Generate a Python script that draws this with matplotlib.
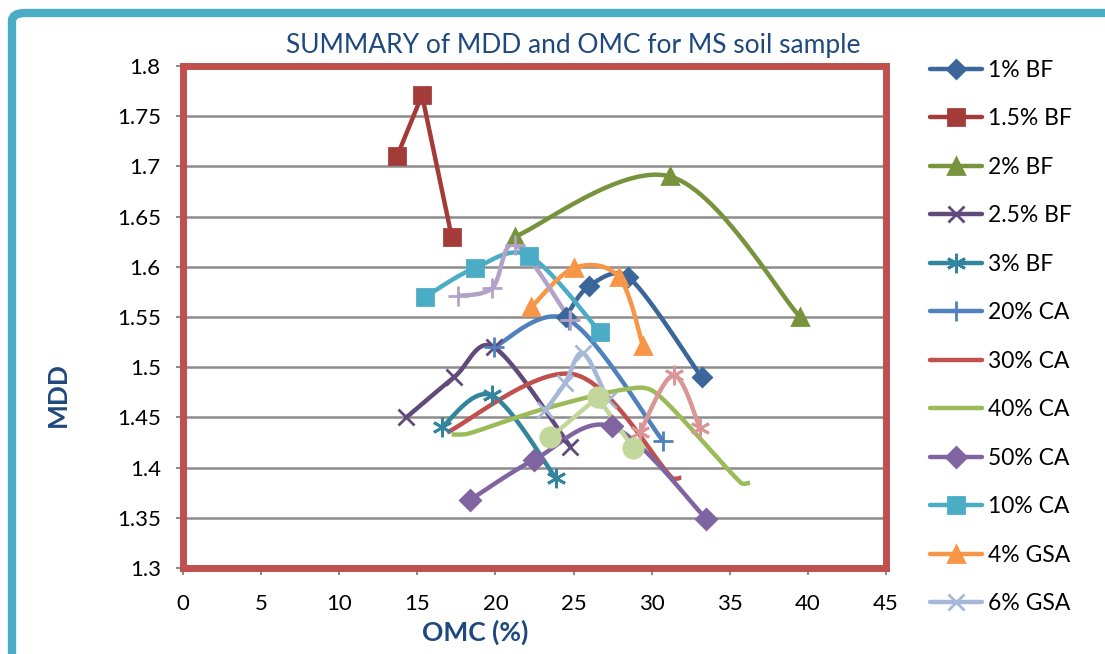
import numpy as np
import matplotlib
matplotlib.use("Agg")
import matplotlib.pyplot as plt
from matplotlib.patches import FancyBboxPatch

plt.rcParams['font.family'] = ['Lato', 'DejaVu Sans']

# series data (OMC %, MDD)
bf1_x = [24.5, 26.0, 28.5, 33.2]
bf1_y = [1.55, 1.581, 1.59, 1.49]
bf15_x = [13.7, 15.3, 17.2]
bf15_y = [1.71, 1.771, 1.63]
bf2_x = [21.25, 31.2, 39.5]
bf2_y = [1.63, 1.69, 1.55]
bf25_x = [14.3, 17.35, 19.9, 24.8]
bf25_y = [1.45, 1.49, 1.52, 1.421]
bf3_x = [16.55, 19.75, 23.85]
bf3_y = [1.44, 1.472, 1.39]
ca20_x = [19.9, 24.7, 30.7]
ca20_y = [1.52, 1.547, 1.427]
ca30_x = [16.9, 25.0, 31.3, 31.9]
ca30_y = [1.435, 1.493, 1.39, 1.39]
ca40_x = [17.2, 18.3, 23.0, 28.3, 30.3, 35.7, 36.3]
ca40_y = [1.433, 1.434, 1.458, 1.478, 1.474, 1.385, 1.385]
ca50_x = [18.4, 22.5, 27.45, 33.5]
ca50_y = [1.368, 1.408, 1.441, 1.349]
ca10_x = [15.5, 18.7, 22.15, 26.7]
ca10_y = [1.57, 1.599, 1.611, 1.535]
gsa4_x = [22.3, 25.05, 27.9, 29.45]
gsa4_y = [1.56, 1.599, 1.59, 1.521]
gsa6_x = [23.2, 24.45, 25.6, 27.2]
gsa6_y = [1.457, 1.484, 1.514, 1.467]
# series that the legend does not list
pink_x = [29.25, 31.4, 33.1]
pink_y = [1.435, 1.492, 1.439]
green_x = [23.5, 26.55, 28.8]
green_y = [1.43, 1.47, 1.42]
lav_x = [17.6, 19.8, 21.25, 24.8]
lav_y = [1.571, 1.579, 1.622, 1.547]

labels = ['1% BF', '1.5% BF', '2% BF', '2.5% BF', '3% BF', '20% CA', '30% CA',
          '40% CA', '50% CA', '10% CA', '4% GSA', '6% GSA']
ytick_vals = [1.3, 1.35, 1.4, 1.45, 1.5, 1.55, 1.6, 1.65, 1.7, 1.75, 1.8]
ytick_labels = ['1.3', '1.35', '1.4', '1.45', '1.5', '1.55', '1.6', '1.65', '1.7', '1.75', '1.8']
xtick_vals = list(range(0, 50, 5))

XMAX, YMIN, YMAX = 45, 1.3, 1.8


def smooth(xs, ys, n=30):
    # excel style bezier smoothing, done in pixel-like units
    sx = np.array(xs) / XMAX * 706.0
    sy = (np.array(ys) - YMIN) / (YMAX - YMIN) * 502.0
    P = np.column_stack([sx, sy])
    if len(P) < 3:
        return xs, ys
    out = []
    for i in range(len(P) - 1):
        p0 = P[i - 1] if i > 0 else P[i]
        p1, p2 = P[i], P[i + 1]
        p3 = P[i + 2] if i + 2 < len(P) else P[i + 1]
        seglen = np.hypot(*(p2 - p1))
        d1 = (p2 - p0) / 6.0
        d2 = (p3 - p1) / 6.0
        for d in (d1, d2):
            L = np.hypot(*d)
            if L > seglen / 2.5:
                d *= (seglen / 2.5) / L
        c1 = p1 + d1
        c2 = p2 - d2
        t = np.linspace(0, 1, n)[:, None]
        seg = (1 - t) ** 3 * p1 + 3 * (1 - t) ** 2 * t * c1 + 3 * (1 - t) * t ** 2 * c2 + t ** 3 * p2
        out.append(seg if i == 0 else seg[1:])
    out = np.vstack(out)
    return out[:, 0] / 706.0 * XMAX, out[:, 1] / 502.0 * (YMAX - YMIN) + YMIN


fig = plt.figure(figsize=(11.05, 6.54), dpi=100)
ax = fig.add_axes([0.1656, 0.1315, 0.6362, 0.7675])

# outer frame
frame = FancyBboxPatch((12 / 1105, -0.2), 1.3, 1.2 - 13 / 654,
                       boxstyle="round,pad=0,rounding_size=0.012",
                       transform=fig.transFigure, fill=False,
                       edgecolor='#4bacc6', linewidth=6, zorder=0)
fig.patches.append(frame)

series = [
    (bf1_x, bf1_y, '#3a6699', 'D', 9, True, labels[0]),
    (bf15_x, bf15_y, '#a33b39', 's', 12, False, labels[1]),
    (bf2_x, bf2_y, '#77933c', '^', 12, True, labels[2]),
    (bf25_x, bf25_y, '#604a7b', 'x', 11, True, labels[3]),
    (bf3_x, bf3_y, '#31859c', (6, 2, 0), 14, True, labels[4]),
    (ca20_x, ca20_y, '#4f81bd', '+', 14, True, labels[5]),
    (ca30_x, ca30_y, '#c0504d', None, 0, True, labels[6]),
    (ca40_x, ca40_y, '#9bbb59', None, 0, True, labels[7]),
    (ca50_x, ca50_y, '#8064a2', 'D', 10, True, labels[8]),
    (ca10_x, ca10_y, '#4bacc6', 's', 12, True, labels[9]),
    (gsa4_x, gsa4_y, '#f79646', '^', 12, True, labels[10]),
    (gsa6_x, gsa6_y, '#a5b8d8', 'x', 11, True, labels[11]),
    (pink_x, pink_y, '#d99694', (6, 2, 0), 14, True, '_nolegend_'),
    (green_x, green_y, '#c3d69b', 'o', 14, False, '_nolegend_'),
    (lav_x, lav_y, '#b3a2c7', '+', 14, True, '_nolegend_'),
]

handles = []
for xs, ys, col, mk, ms, sm, lab in series:
    if sm:
        lx, ly = smooth(xs, ys)
    else:
        lx, ly = xs, ys
    ax.plot(lx, ly, color=col, lw=3.2, solid_capstyle='butt', zorder=3)
    if mk is not None:
        ax.plot(xs, ys, ls='none', marker=mk, ms=ms, color=col, mec=col, mew=2, zorder=4)
    h, = ax.plot([], [], color=col, lw=3.2, marker=mk, ms=ms, mec=col, mew=2,
                 solid_capstyle='round', label=lab)
    if lab != '_nolegend_':
        handles.append(h)

ax.set_xlim(0, XMAX)
ax.set_ylim(YMIN, YMAX)
ax.set_xticks(xtick_vals)
ax.set_yticks(ytick_vals)
ax.set_yticklabels(ytick_labels)
ax.tick_params(axis='both', labelsize=16, labelcolor='#000000', color='#8c8c8c',
               length=5, width=1.5, direction='out')
ax.tick_params(axis='x', pad=14)
ax.tick_params(axis='y', pad=11)
ax.yaxis.grid(True, color='#8c8c8c', lw=1.8)
ax.set_axisbelow(True)
for s in ax.spines.values():
    s.set_color('#c0504d')
    s.set_linewidth(5)

fig.text(58 / 1105, 1 - 395 / 654, 'MDD', rotation=90, ha='center', va='center',
         fontsize=19, fontweight='bold', color='#1f497d')
fig.text(475 / 1105, 1 - 632 / 654, 'OMC (%)', ha='center', va='center',
         fontsize=19, fontweight='bold', color='#1f497d')
fig.text(573 / 1105, 1 - 45 / 654, 'SUMMARY of MDD and OMC for MS soil sample',
         ha='center', va='center', fontsize=19, color='#1f497d')

fig.legend(handles=handles, loc='upper left', bbox_to_anchor=(0.8335, 0.9228),
           frameon=False, fontsize=16.5, handlelength=2.27, handletextpad=0.26,
           labelspacing=1.2, borderaxespad=0)

fig.savefig('out.png', dpi=100)
